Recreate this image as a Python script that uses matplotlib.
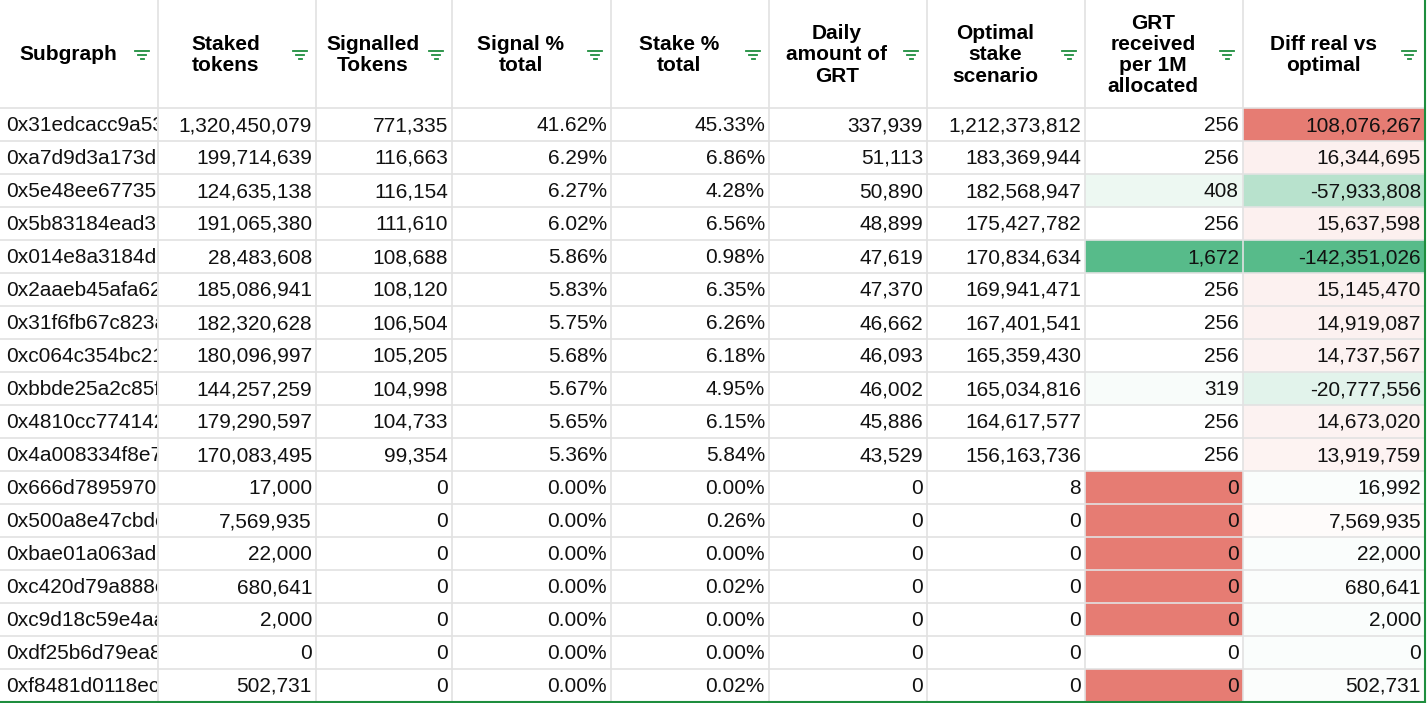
import matplotlib
matplotlib.use("Agg")
import matplotlib.pyplot as plt
from matplotlib.patches import Rectangle
from matplotlib.transforms import Bbox, TransformedBbox
import numpy as np

headers = ["Subgraph", "Staked\ntokens", "Signalled\nTokens", "Signal %\ntotal", "Stake %\ntotal",
           "Daily\namount of\nGRT", "Optimal\nstake\nscenario", "GRT\nreceived\nper 1M\nallocated",
           "Diff real vs\noptimal"]
subgraphs = ["0x31edcacc9a53", "0xa7d9d3a173d3", "0x5e48ee677357", "0x5b83184ead32", "0x014e8a3184d5",
             "0x2aaeb45afa62", "0x31f6fb67c823a", "0xc064c354bc21", "0xbbde25a2c85f", "0x4810cc774142",
             "0x4a008334f8e7", "0x666d78959706", "0x500a8e47cbde", "0xbae01a063ad8", "0xc420d79a888e",
             "0xc9d18c59e4aa", "0xdf25b6d79ea8", "0xf8481d0118ec"]
staked = [1320450079, 199714639, 124635138, 191065380, 28483608, 185086941, 182320628, 180096997,
          144257259, 179290597, 170083495, 17000, 7569935, 22000, 680641, 2000, 0, 502731]
signalled = [771335, 116663, 116154, 111610, 108688, 108120, 106504, 105205, 104998, 104733, 99354,
             0, 0, 0, 0, 0, 0, 0]
signal_pct = [41.62, 6.29, 6.27, 6.02, 5.86, 5.83, 5.75, 5.68, 5.67, 5.65, 5.36] + [0.0] * 7
stake_pct = [45.33, 6.86, 4.28, 6.56, 0.98, 6.35, 6.26, 6.18, 4.95, 6.15, 5.84,
             0.00, 0.26, 0.00, 0.02, 0.00, 0.00, 0.02]
daily = [337939, 51113, 50890, 48899, 47619, 47370, 46662, 46093, 46002, 45886, 43529] + [0] * 7
optimal = [1212373812, 183369944, 182568947, 175427782, 170834634, 169941471, 167401541, 165359430,
           165034816, 164617577, 156163736, 8, 0, 0, 0, 0, 0, 0]
grt_per_1m = [256, 256, 408, 256, 1672, 256, 256, 256, 319, 256, 256, 0, 0, 0, 0, 0, 0, 0]
diff = [108076267, 16344695, -57933808, 15637598, -142351026, 15145470, 14919087, 14737567,
        -20777556, 14673020, 13919759, 16992, 7569935, 22000, 680641, 2000, 0, 502731]

RED = np.array([0xe6, 0x7c, 0x73]) / 255
GREEN = np.array([0x57, 0xbb, 0x8a]) / 255
WHITE = np.ones(3)

def gradient(vals, low, high):
    v = np.array(vals, float)
    lo, hi, mid = v.min(), v.max(), np.percentile(v, 50)
    out = []
    for x in v:
        if x <= mid:
            t = (mid - x) / (mid - lo) if mid > lo else 0
            out.append(WHITE + (low - WHITE) * t)
        else:
            t = (x - mid) / (hi - mid)
            out.append(WHITE + (high - WHITE) * t)
    return out

col_grt = gradient(grt_per_1m, RED, GREEN)
col_grt[16] = None  # blank-sourced cell shows no fill
col_diff = gradient(diff, GREEN, RED)

W, H = 1427, 703
fig = plt.figure(figsize=(W / 100, H / 100), dpi=100)
ax = fig.add_axes([0, 0, 1, 1])
ax.set_xlim(0, W)
ax.set_ylim(H, 0)
ax.axis("off")

edges = [0, 158, 316, 452, 611, 769, 927, 1085, 1243, 1425]
header_h = 108
row_h = 33
fam = ["Liberation Sans", "DejaVu Sans"]
grid = "#e2e2e2"
FS = 15

nrows = len(subgraphs)
for r in range(nrows):
    y0 = header_h + r * row_h
    for ci, cols in ((7, col_grt), (8, col_diff)):
        c = cols[r]
        if c is not None:
            ax.add_patch(Rectangle((edges[ci], y0), edges[ci + 1] - edges[ci], row_h,
                                   facecolor=c, edgecolor="none", zorder=1))

for x in edges[1:-1]:
    ax.plot([x, x], [0, H], color=grid, lw=1.2, zorder=2)
for r in range(nrows + 1):
    y = header_h + r * row_h
    ax.plot([0, edges[-1]], [y, y], color=grid, lw=1.2, zorder=2)
ax.plot([edges[-1], edges[-1]], [0, H], color="#1e8e3e", lw=1.5, zorder=3)
ax.plot([0, edges[-1]], [H - 0.8, H - 0.8], color="#1e8e3e", lw=1.5, zorder=3)

for i, h in enumerate(headers):
    l, rr = edges[i], edges[i + 1]
    ix = rr - 16
    ax.text((l + ix - 8) / 2 + 1, header_h / 2 + 1, h, ha="center", va="center", fontsize=FS,
            fontweight="bold", family=fam, linespacing=1.15, zorder=4)
    for w, dy in [(7, -5), (4, -1), (1.5, 3)]:
        ax.plot([ix - w, ix + w], [header_h / 2 + 2 + dy] * 2, color="#1e8e3e", lw=1.3, zorder=4)

def fmt_int(v):
    return f"{v:,}"

clipbox = TransformedBbox(Bbox([[0, 0], [edges[1] - 1, H]]), ax.transData)
for r in range(nrows):
    yc = header_h + r * row_h + row_h / 2 + 1
    t = ax.text(6, yc, subgraphs[r], ha="left", va="center", fontsize=FS, family=fam,
                color="#111111", zorder=4)
    t.set_clip_box(clipbox)
    t.set_clip_on(True)
    vals = [fmt_int(staked[r]), fmt_int(signalled[r]), f"{signal_pct[r]:.2f}%", f"{stake_pct[r]:.2f}%",
            fmt_int(daily[r]), fmt_int(optimal[r]), fmt_int(grt_per_1m[r]), fmt_int(diff[r])]
    for j, s in enumerate(vals):
        ax.text(edges[j + 2] - 4, yc, s, ha="right", va="center", fontsize=FS, family=fam,
                color="#111111", zorder=4)

fig.savefig("out.png", dpi=100, facecolor="white")
